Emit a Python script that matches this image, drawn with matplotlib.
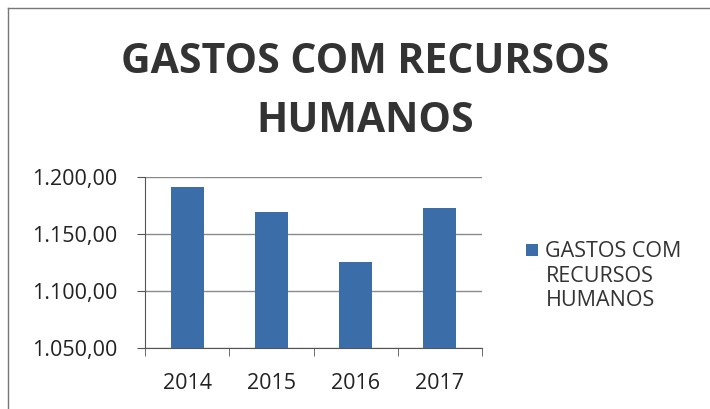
import matplotlib.pyplot as plt
from matplotlib.lines import Line2D
from matplotlib.patches import Rectangle
from matplotlib.legend_handler import HandlerPatch
from matplotlib.ticker import FuncFormatter, FixedLocator

plt.rcParams['font.family'] = ['Open Sans', 'DejaVu Sans']

anos = ['2014', '2015', '2016', '2017']
gastos = [1191.5, 1169.5, 1125.5, 1173.0]
serie = 'GASTOS COM\nRECURSOS\nHUMANOS'
titulo = 'GASTOS COM RECURSOS\nHUMANOS'

cor = '#3b6ea8'

def formato_br(v, pos):
    s = '{:,.2f}'.format(v)
    return s.replace(',', 'X').replace('.', ',').replace('X', '.')

# quadradinho da legenda alinhado com a primeira linha do texto
def quadrado_topo(legend, orig_handle, xdescent, ydescent, width, height, fontsize):
    return Rectangle((-xdescent, -ydescent + 19), width, height)

fig = plt.figure(figsize=(7.1, 4.09), dpi=100)
ax = fig.add_axes([145 / 710, 1 - 348 / 409, 337 / 710, 171 / 409])

x = range(len(anos))
barras = ax.bar(x, gastos, width=0.39, color=cor, zorder=3)
ax.set_xlim(-0.5, len(anos) - 0.5)
ax.set_ylim(1050, 1200)
ax.set_yticks([1050, 1100, 1150, 1200])
ax.yaxis.set_major_formatter(FuncFormatter(formato_br))
ax.set_xticks(list(x))
ax.set_xticklabels(anos)
ax.xaxis.set_minor_locator(FixedLocator([i - 0.5 for i in range(len(anos) + 1)]))
ax.tick_params(axis='x', which='major', length=0, pad=18, labelsize=15.5, colors='#222222')
ax.tick_params(axis='x', which='minor', length=6, direction='out', color='#555555')
ax.tick_params(axis='y', length=6, direction='out', pad=14, labelsize=15.5,
               colors='#222222')
ax.tick_params(axis='y', color='#555555')
ax.grid(axis='y', color='#8a8a8a', linewidth=1, zorder=0)
for lado in ['top', 'right']:
    ax.spines[lado].set_visible(False)
for lado in ['left', 'bottom']:
    ax.spines[lado].set_color('#555555')

fig.text(365 / 710, 1 - 92 / 409, titulo, ha='center', va='center',
         fontsize=29.5, fontweight='bold', color='#333333', linespacing=1.6)

ax.legend([barras.patches[0]], [serie],
          handler_map={barras.patches[0]: HandlerPatch(patch_func=quadrado_topo)},
          loc='center left', bbox_to_anchor=(526 / 710, 1 - 276 / 409),
          bbox_transform=fig.transFigure, frameon=False, fontsize=15.5,
          borderpad=0, borderaxespad=0,
          handlelength=0.55, handleheight=0.55, handletextpad=0.35,
          labelcolor='#333333')

# moldura da área do gráfico
fig.add_artist(Line2D([8 / 710, 1], [1 - 8 / 409] * 2, transform=fig.transFigure,
                      color='#777777', linewidth=1))
fig.add_artist(Line2D([8 / 710] * 2, [0, 1 - 8 / 409], transform=fig.transFigure,
                      color='#777777', linewidth=1))

fig.savefig('out.png', dpi=100, facecolor='white')
